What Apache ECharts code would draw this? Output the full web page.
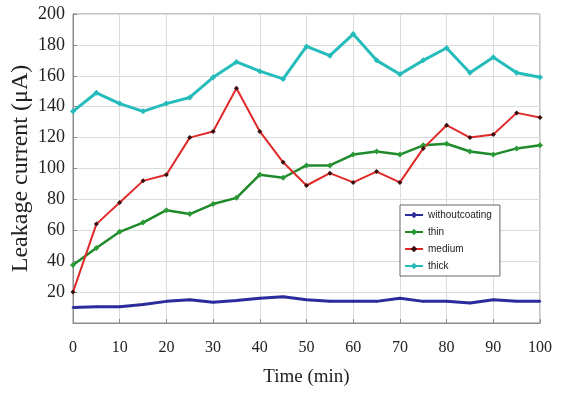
<!DOCTYPE html>
<html>
<head>
<meta charset="utf-8">
<script src="https://cdn.jsdelivr.net/npm/echarts@6/dist/echarts.min.js"></script>
<style>
  html, body { margin: 0; padding: 0; background: #fff; }
  #chart { width: 570px; height: 396px; }
</style>
</head>
<body>
<div id="chart"></div>
<script>
// time in minutes, one sample every 5 min
const times = [0, 5, 10, 15, 20, 25, 30, 35, 40, 45, 50, 55, 60, 65, 70, 75, 80, 85, 90, 95, 100]

// leakage current (uA)
const withoutCoating = [10, 10.5, 10.5, 12, 14, 15, 13.5, 14.5, 16, 17, 15, 14, 14, 14, 16, 14, 14, 13, 15, 14, 14]
const thin = [37.5, 48.5, 59, 65, 73, 70.5, 77, 81, 96, 94, 102, 102, 109, 111, 109, 115, 116, 111, 109, 113, 115]
const medium = [20, 64, 78, 92, 96, 120, 124, 152, 124, 104, 89, 97, 91, 98, 91, 113, 128, 120, 122, 136, 133]
const thick = [137, 149, 142, 137, 142, 146, 159, 169, 163, 158, 179, 173, 187, 170, 161, 170, 178, 162, 172, 162, 159]

const seriesNames = ['withoutcoating', 'thin', 'medium', 'thick']

const pairs = vals => times.map((t, i) => [t, vals[i]])

const chart = echarts.init(document.getElementById('chart'))
chart.setOption({
  animation: false,
  grid: {
    left: 73, right: 30, top: 14, bottom: 73,
    outerBoundsMode: 'none',
    show: true, borderColor: '#8a8a8a', borderWidth: 1
  },
  legend: {
    orient: 'vertical',
    left: 400, top: 205,
    data: seriesNames,
    backgroundColor: '#fff',
    borderColor: '#666', borderWidth: 1,
    padding: [5, 8, 5, 4],
    itemWidth: 18, itemHeight: 8, itemGap: 7,
    textStyle: { fontFamily: 'Liberation Sans', fontSize: 10, color: '#222' }
  },
  xAxis: {
    type: 'value', min: 0, max: 100, interval: 10,
    name: 'Time (min)', nameLocation: 'middle', nameGap: 45,
    nameTextStyle: { fontFamily: 'Liberation Serif', fontSize: 19, color: '#222' },
    axisLine: { show: true, lineStyle: { color: '#8a8a8a' } },
    axisTick: { show: true, inside: true, length: 4, lineStyle: { color: '#8a8a8a' } },
    axisLabel: { fontFamily: 'Liberation Serif', fontSize: 16, color: '#222', margin: 17 },
    splitLine: { show: true, lineStyle: { color: '#dcdcdc' } }
  },
  yAxis: {
    type: 'value', min: 0, max: 200, interval: 20,
    name: 'Leakage current (\u03bcA)', nameLocation: 'middle', nameGap: 40,
    nameMoveOverlap: false,
    nameTextStyle: { fontFamily: 'Liberation Serif', fontSize: 24, color: '#222' },
    axisLine: { show: true, lineStyle: { color: '#8a8a8a' } },
    axisTick: { show: true, inside: true, length: 4, lineStyle: { color: '#8a8a8a' } },
    axisLabel: { fontFamily: 'Liberation Serif', fontSize: 18, color: '#222', margin: 8, showMinLabel: false },
    splitLine: { show: true, lineStyle: { color: '#dcdcdc' } }
  },
  series: [
    {
      name: seriesNames[0], type: 'line', data: pairs(withoutCoating),
      symbol: 'diamond', symbolSize: 3,
      lineStyle: { color: '#2b2b9c', width: 3 },
      itemStyle: { color: '#2b2b9c' }
    },
    {
      name: seriesNames[1], type: 'line', data: pairs(thin),
      symbol: 'diamond', symbolSize: 6,
      lineStyle: { color: '#1f8a2c', width: 2.5 },
      itemStyle: { color: '#2a9a36' }
    },
    {
      name: seriesNames[2], type: 'line', data: pairs(medium),
      symbol: 'diamond', symbolSize: 5,
      lineStyle: { color: '#e02a2a', width: 2 },
      itemStyle: { color: '#3a0c0c' }
    },
    {
      name: seriesNames[3], type: 'line', data: pairs(thick),
      symbol: 'diamond', symbolSize: 6,
      lineStyle: { color: '#26bcbc', width: 3 },
      itemStyle: { color: '#26bcbc' }
    }
  ]
})
</script>
</body>
</html>
